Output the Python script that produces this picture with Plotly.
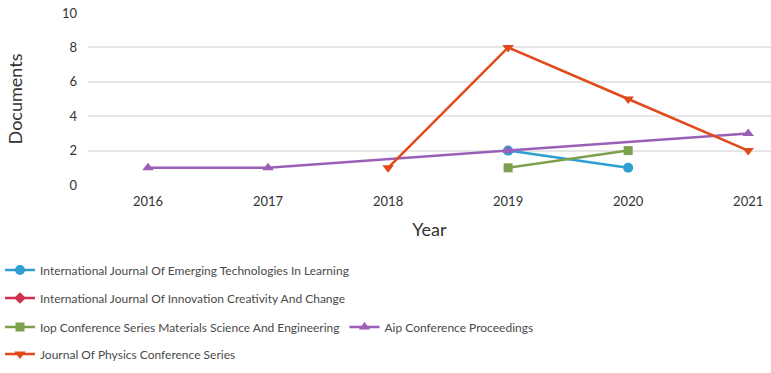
import plotly.graph_objects as go

years_tick = [2016, 2017, 2018, 2019, 2020, 2021]

ijet_x = [2019, 2020]
ijet_y = [2, 1]

ijicc_x = [None]
ijicc_y = [None]

iop_x = [2019, 2020]
iop_y = [1, 2]

aip_x = [2016, 2017, 2019, 2021]
aip_y = [1, 1, 2, 3]

jpcs_x = [2018, 2019, 2020, 2021]
jpcs_y = [1, 8, 5, 2]

names = [
    "International Journal Of Emerging Technologies In Learning",
    "International Journal Of Innovation Creativity And Change",
    "Iop Conference Series Materials Science And Engineering",
    "Aip Conference Proceedings",
    "Journal Of Physics Conference Series",
]

FONT = "Lato"
fig = go.Figure()

def add(x, y, name, color, symbol, size, legend):
    fig.add_trace(go.Scatter(
        x=x, y=y, name=name, mode="lines+markers",
        line=dict(color=color, width=2.5),
        marker=dict(symbol=symbol, size=size, color=color),
        legend=legend, showlegend=True,
    ))

add(ijet_x, ijet_y, names[0], "#2E9FD3", "circle", 10, "legend")
add(ijicc_x, ijicc_y, names[1], "#D02F4F", "diamond", 9, "legend2")
add(iop_x, iop_y, names[2], "#7DA04E", "square", 9, "legend3")
add(aip_x, aip_y, names[3], "#9B5FB8", "triangle-up", 10, "legend3")
add(jpcs_x, jpcs_y, names[4], "#E2491B", "triangle-down", 10, "legend4")

H = 373
def leg(ypix):
    return dict(
        xref="container", yref="container", x=-0.008, y=1 - ypix / H,
        xanchor="left", yanchor="middle", orientation="h",
        font=dict(family=FONT, size=12, color="#4a4a4a"),
        bgcolor="rgba(0,0,0,0)", itemwidth=30, tracegroupgap=0,
    )

fig.update_layout(
    width=771, height=373,
    margin=dict(l=88, r=0, t=13, b=188),
    paper_bgcolor="white", plot_bgcolor="white",
    showlegend=True,
    font=dict(family=FONT, size=12, color="#333"),
    legend=leg(270), legend2=leg(298), legend3=leg(327), legend4=leg(354),
    xaxis=dict(
        range=[2015.5, 2021.19], tickvals=years_tick,
        ticktext=[str(v) for v in years_tick],
        showgrid=False, zeroline=False, showline=False, automargin=False,
        tickfont=dict(family=FONT, size=13, color="#333"),
        ticklabelstandoff=7,
        title=dict(text="Year", font=dict(family=FONT, size=18, color="#333"), standoff=15),
    ),
    yaxis=dict(
        range=[0, 10], tickvals=[0, 2, 4, 6, 8, 10],
        showgrid=True, gridcolor="#E6E6E6", gridwidth=1.5,
        zeroline=False, showline=False, automargin=False,
        tickfont=dict(family=FONT, size=13, color="#333"),
        ticklabelstandoff=10,
        title=dict(text="Documents", font=dict(family=FONT, size=18, color="#333"), standoff=34),
    ),
)

fig.write_html("out.html", config={"displayModeBar": False},
               post_script="document.body.style.margin='0';")
